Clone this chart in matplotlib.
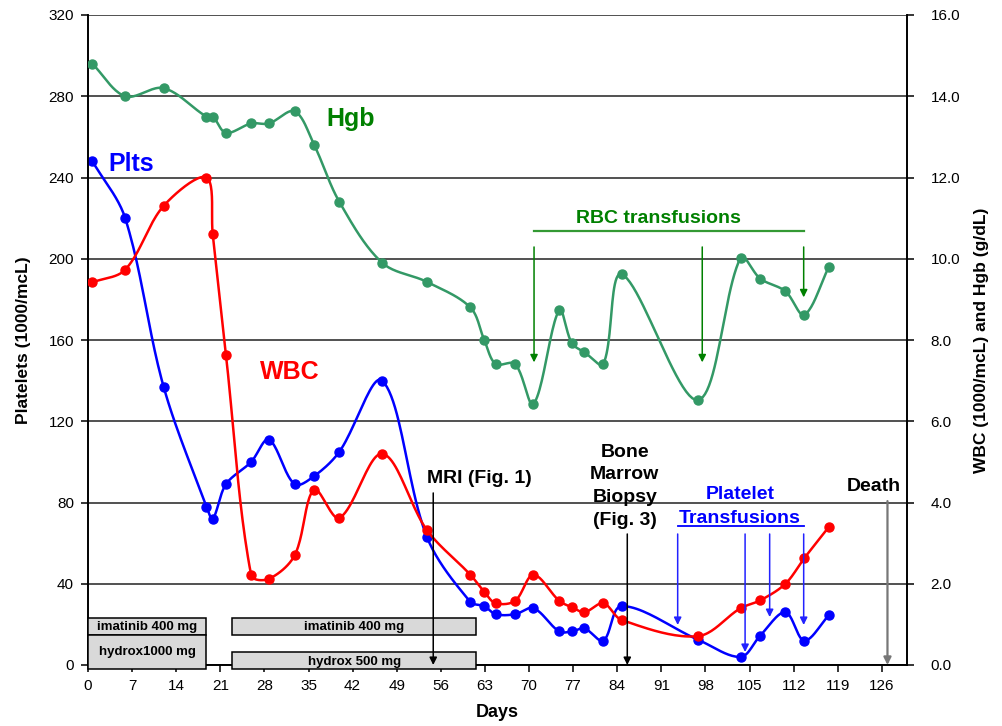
import numpy as np
import matplotlib
matplotlib.use("Agg")
import matplotlib.pyplot as plt
from matplotlib.patches import Rectangle

plt.rcParams['font.family'] = ['Liberation Sans', 'DejaVu Sans']

# days of each lab draw (shared by all three series)
days = [0.7, 5.9, 12.0, 18.8, 19.8, 21.9, 25.9, 28.7, 32.8, 35.9, 39.9, 46.7,
        53.8, 60.7, 62.9, 64.7, 67.8, 70.7, 74.8, 76.8, 78.8, 81.8, 84.7,
        96.8, 103.6, 106.7, 110.7, 113.7, 117.6]
plts = [248, 220, 137, 78, 72, 89, 100, 111, 89, 93, 105, 140,
        63, 31, 29, 25, 25, 28, 16.5, 16.5, 18, 12, 29,
        12.5, 4, 14.5, 26, 12, 24.5]
wbc = [9.42, 9.73, 11.3, 12.0, 10.6, 7.63, 2.21, 2.12, 2.7, 4.32, 3.62, 5.2,
       3.32, 2.22, 1.8, 1.52, 1.58, 2.22, 1.58, 1.42, 1.3, 1.52, 1.11,
       0.71, 1.4, 1.59, 2.0, 2.63, 3.4]
hgb = [14.8, 14.0, 14.2, 13.5, 13.5, 13.1, 13.33, 13.33, 13.63, 12.8, 11.4, 9.9,
       9.43, 8.8, 8.0, 7.41, 7.41, 6.42, 8.74, 7.92, 7.7, 7.41, 9.62,
       6.52, 10.03, 9.51, 9.2, 8.62, 9.8]

# treatment boxes: (label, start day, end day, low, high) on platelet scale
boxes = [("imatinib 400 mg", 0, 18.8, 14.8, 23.0),
         ("hydrox1000 mg", 0, 18.8, -2.0, 14.8),
         ("imatinib 400 mg", 22.9, 61.6, 14.8, 23.0),
         ("hydrox 500 mg", 22.9, 61.6, -2.0, 6.2)]

# event arrows: (day, start value, tip value) on platelet scale
black_events = [(54.8, 84.7, 0), (85.6, 64.5, 0)]
death_event = (126.9, 80.7, 0)
plt_transf = [(93.6, 64.5, 19.7), (104.3, 64.5, 6.4), (108.2, 64.5, 23.6), (113.6, 64.5, 19.7)]
rbc_transf = [(70.8, 205.8, 149), (97.5, 205.8, 149), (113.6, 205.8, 181)]

XMAX = 130
fig = plt.figure(figsize=(10.02, 7.26), dpi=100)
ax = fig.add_axes([88/1002, 1-665/726, 819/1002, 650/726])
ax2 = ax.twinx()

PX_X = 819 / XMAX


def smooth(x, y, sy, n=24):
    # Excel-style smoothed line, computed in screen space
    P = np.column_stack([np.asarray(x) * PX_X, np.asarray(y) * sy])
    E = np.vstack([P[0], P, P[-1]])
    t = np.linspace(0, 1, n)[:, None]
    out = []
    for i in range(len(P) - 1):
        p0, p1, p2, p3 = E[i], E[i+1], E[i+2], E[i+3]
        d01 = np.hypot(*(p1 - p0))
        d12 = np.hypot(*(p2 - p1))
        d23 = np.hypot(*(p3 - p2))
        w1 = d12 / (d01 + d12) / 3 if d01 + d12 > 0 else 0
        w2 = d12 / (d12 + d23) / 3 if d12 + d23 > 0 else 0
        c1 = p1 + (p2 - p0) * w1
        c2 = p2 - (p3 - p1) * w2
        seg = (1-t)**3*p1 + 3*(1-t)**2*t*c1 + 3*(1-t)*t**2*c2 + t**3*p2
        out.append(seg if i == 0 else seg[1:])
    out = np.vstack(out)
    return out[:, 0] / PX_X, out[:, 1] / sy


blue, red, green = '#0000FF', '#FF0000', '#339966'
sx, sy = smooth(days, plts, 650/320)
ax.plot(sx, sy, color=blue, lw=1.8, zorder=3)
ax.plot(days, plts, 'o', color=blue, ms=6.5, zorder=3)

sx, sy = smooth(days, wbc, 650/16)
ax2.plot(sx, sy, color=red, lw=1.8, zorder=3)
ax2.plot(days, wbc, 'o', color=red, ms=6.5, zorder=3)
sx, sy = smooth(days, hgb, 650/16)
ax2.plot(sx, sy, color=green, lw=1.8, zorder=3)
ax2.plot(days, hgb, 'o', color=green, ms=6.5, zorder=3)

ax.set_xlim(0, XMAX)
ax.set_ylim(0, 320)
ax2.set_ylim(0, 16)
ax.set_xticks(range(0, 127, 7))
ax.set_yticks(range(0, 321, 40))
ax2.set_yticks(np.arange(0, 16.1, 2))
ax2.set_yticklabels([f"{v:.1f}" for v in np.arange(0, 16.1, 2)])
ax.grid(axis='y', color='#222222', lw=1.1)
ax.set_axisbelow(True)
for a in (ax, ax2):
    a.spines['top'].set_visible(False)
    for s in a.spines.values():
        s.set_linewidth(1.2)
ax.tick_params(axis='both', labelsize=11, length=5, width=1.1, pad=5)
ax2.tick_params(axis='y', labelsize=11, length=5, width=1.1, pad=12)
ax.set_ylabel("Platelets (1000/mcL)", fontsize=12.5, fontweight='bold', labelpad=13)
ax2.set_ylabel("WBC (1000/mcL) and Hgb (g/dL)", fontsize=12.5, fontweight='bold', labelpad=10)
ax.set_xlabel("Days", fontsize=13, fontweight='bold', labelpad=8)

T = ax.transData

# treatment boxes
for label, x0, x1, lo, hi in boxes:
    ax2.add_patch(Rectangle((x0, lo), x1 - x0, hi - lo, transform=T, facecolor='#D9D9D9',
                            edgecolor='black', lw=1.1, clip_on=False, zorder=4))
for label, x0, x1, lo, hi in boxes:
    yc = (lo + hi) / 2 if label != "hydrox 500 mg" else 1.6
    ax2.text((x0 + x1) / 2, yc, label, transform=T, ha='center', va='center',
             fontsize=9.5, fontweight='bold', zorder=5)

# series labels
ax2.text(3.3, 243.3, "Plts", transform=T, color=blue, fontsize=18, fontweight='bold')
ax2.text(37.9, 265.4, "Hgb", transform=T, color='#008000', fontsize=18, fontweight='bold')
ax2.text(27.3, 140.6, "WBC", transform=T, color=red, fontsize=18, fontweight='bold')

akw = dict(arrowstyle='-|>', mutation_scale=11, shrinkA=0, shrinkB=0)

# black event arrows
for d, y0, y1 in black_events:
    ax2.annotate("", xy=(d, y1), xytext=(d, y0), xycoords=T, textcoords=T,
                 arrowprops=dict(color='black', lw=1.1, **akw), zorder=6)
d, y0, y1 = death_event
ax2.annotate("", xy=(d, y1), xytext=(d, y0), xycoords=T, textcoords=T,
             arrowprops=dict(color='#777777', lw=1.6, **akw), zorder=6)

ax2.text(62.2, 89.5, "MRI (Fig. 1)", transform=T, ha='center', fontsize=14, fontweight='bold')
ax2.text(85.2, 109.0, "Bone\nMarrow\nBiopsy\n(Fig. 3)", transform=T, ha='center', va='top',
         fontsize=14, fontweight='bold', linespacing=1.45)
ax2.text(124.8, 85.7, "Death", transform=T, ha='center', fontsize=14, fontweight='bold')

# platelet transfusions
for d, y0, y1 in plt_transf:
    ax2.annotate("", xy=(d, y1), xytext=(d, y0), xycoords=T, textcoords=T,
                 arrowprops=dict(color='#2222FF', lw=1.1, **akw), zorder=6)
ax2.text(103.5, 81.6, "Platelet", transform=T, ha='center', color=blue, fontsize=14, fontweight='bold')
ax2.text(103.5, 70.0, "Transfusions", transform=T, ha='center', color=blue, fontsize=14, fontweight='bold')
ax2.plot([93.6, 113.6], [68.4 / 20, 68.4 / 20], color=blue, lw=1.3, zorder=6)

# RBC transfusions
for d, y0, y1 in rbc_transf:
    ax2.annotate("", xy=(d, y1), xytext=(d, y0), xycoords=T, textcoords=T,
                 arrowprops=dict(color='#008000', lw=1.1, **akw), zorder=6)
ax2.text(90.5, 217.7, "RBC transfusions", transform=T, ha='center', color='#008000',
         fontsize=14, fontweight='bold')
ax2.plot([70.8, 113.6], [213.8 / 20, 213.8 / 20], color='#339933', lw=1.6, zorder=6)

fig.savefig("out.png", dpi=100)
